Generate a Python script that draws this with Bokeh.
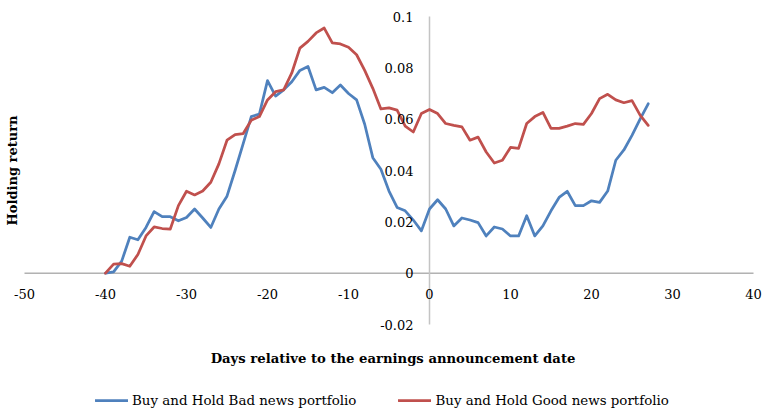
import math
from bokeh.plotting import figure
from bokeh.models import Range1d, Legend, LegendItem
from bokeh.core.properties import value
from bokeh.embed import file_html
from bokeh.resources import INLINE

# ---- data ----
days = list(range(-40, 28))
bad_news = [0.0, 0.0005, 0.0047, 0.014, 0.013, 0.0178, 0.024, 0.022, 0.022, 0.0204,
            0.0217, 0.025, 0.0215, 0.0178, 0.025, 0.030, 0.040, 0.0505, 0.061, 0.062,
            0.075, 0.069, 0.0714, 0.0746, 0.079, 0.0805, 0.0714, 0.0724, 0.0703, 0.0733,
            0.070, 0.0675, 0.058, 0.045, 0.0405, 0.032, 0.0256, 0.0243, 0.0207, 0.0165,
            0.025, 0.0286, 0.025, 0.0184, 0.0215, 0.0207, 0.0197, 0.0145, 0.018, 0.0172,
            0.0145, 0.0145, 0.0224, 0.0145, 0.0184, 0.0243, 0.0295, 0.0319, 0.0263, 0.0263,
            0.0282, 0.0276, 0.032, 0.044, 0.048, 0.0537, 0.060, 0.066]
good_news = [0.0, 0.0035, 0.0037, 0.0027, 0.0073, 0.0145, 0.018, 0.0174, 0.0172, 0.0263,
             0.0319, 0.0305, 0.032, 0.0354, 0.0426, 0.0518, 0.054, 0.0544, 0.0596, 0.061,
             0.0675, 0.0707, 0.0714, 0.078, 0.0877, 0.0903, 0.0936, 0.0955, 0.0897, 0.0893,
             0.088, 0.0851, 0.079, 0.072, 0.064, 0.0644, 0.0635, 0.0573, 0.055, 0.0622,
             0.0638, 0.0622, 0.0583, 0.0576, 0.057, 0.0518, 0.053, 0.0472, 0.0429, 0.044,
             0.049, 0.0486, 0.0583, 0.061, 0.0626, 0.0564, 0.0564, 0.0573, 0.0583, 0.058,
             0.0622, 0.068, 0.0697, 0.0675, 0.0664, 0.0672, 0.0616, 0.0576]
x_ticks = [-50, -40, -30, -20, -10, 0, 10, 20, 30, 40]
x_tick_labels = ["-50", "-40", "-30", "-20", "-10", "0", "10", "20", "30", "40"]
y_ticks = [-0.02, 0.0, 0.02, 0.04, 0.06, 0.08, 0.1]
y_tick_labels = ["-0.02", "0", "0.02", "0.04", "0.06", "0.08", "0.1"]
series_names = ["Buy and Hold Bad news portfolio", "Buy and Hold Good news portfolio"]
x_title = "Days relative to the earnings announcement date"
y_title = "Holding return"

x_min, x_max = x_ticks[0], x_ticks[-1]
y_min, y_max = y_ticks[0], y_ticks[-1]

BLUE = "#4F81BD"
RED = "#C0504D"
FONT = "DejaVu Serif"

W, H = 762, 411
# pixel layout of the axes box inside the canvas
AX_LEFT, AX_RIGHT, AX_TOP, AX_BOTTOM = 24, 753, 16, 324
px_x = (AX_RIGHT - AX_LEFT) / (x_max - x_min)
px_y = (AX_BOTTOM - AX_TOP) / (y_max - y_min)
xr = Range1d(x_min - AX_LEFT / px_x, x_max + (W - AX_RIGHT) / px_x)
yr = Range1d(y_min - (H - AX_BOTTOM) / px_y, y_max + AX_TOP / px_y)

p = figure(width=W, height=H, output_backend="svg", toolbar_location=None,
           x_range=xr, y_range=yr,
           min_border_left=0, min_border_right=0, min_border_top=0, min_border_bottom=0)
p.outline_line_color = None
p.grid.visible = False
p.xaxis.visible = False
p.yaxis.visible = False
p.background_fill_color = "white"
p.border_fill_color = "white"

# axis lines crossing at the origin (Excel style)
p.segment(x0=[x_min], y0=[0], x1=[x_max], y1=[0], line_color="#8a8a8a", line_width=1)
p.segment(x0=[0], y0=[y_min], x1=[0], y1=[y_max], line_color="#c4c4c4", line_width=1.5)

r_bad = p.line(days, bad_news, line_color=BLUE, line_width=2.75, line_join="round", line_cap="round")
r_good = p.line(days, good_news, line_color=RED, line_width=2.75, line_join="round", line_cap="round")

# tick labels next to the crossing axes
p.text(x=x_ticks, y=[0] * len(x_ticks), text=x_tick_labels,
       text_align="center", text_baseline="middle", y_offset=21,
       text_font=value(FONT), text_font_size="13px", text_color="black")
p.text(x=[0] * len(y_ticks), y=y_ticks, text=y_tick_labels,
       text_align="right", text_baseline="middle", x_offset=-16,
       text_font=value(FONT), text_font_size="13px", text_color="black")

# axis titles
p.text(x=[(x_min + x_max) / 2], y=[y_min], text=[x_title],
       text_align="center", text_baseline="middle", x_offset=4, y_offset=34,
       text_font=value(FONT), text_font_style="bold", text_font_size="13.2px", text_color="black")
p.text(x=[x_min], y=[(y_min + y_max) / 2], text=[y_title], angle=math.pi / 2,
       text_align="center", text_baseline="middle", x_offset=-12.5,
       text_font=value(FONT), text_font_style="bold", text_font_size="13px", text_color="black")

legend = Legend(items=[LegendItem(label=series_names[0], renderers=[r_bad]),
                       LegendItem(label=series_names[1], renderers=[r_good])],
                orientation="horizontal", location=(95, 3),
                label_text_font=FONT, label_text_font_size="13.4px", label_text_color="black",
                glyph_width=33, glyph_height=16, label_height=16, label_standoff=4, spacing=42,
                padding=0, margin=0, border_line_color=None, background_fill_alpha=0)
p.add_layout(legend, "center")

open("out.html", "w").write(file_html(p, INLINE))
